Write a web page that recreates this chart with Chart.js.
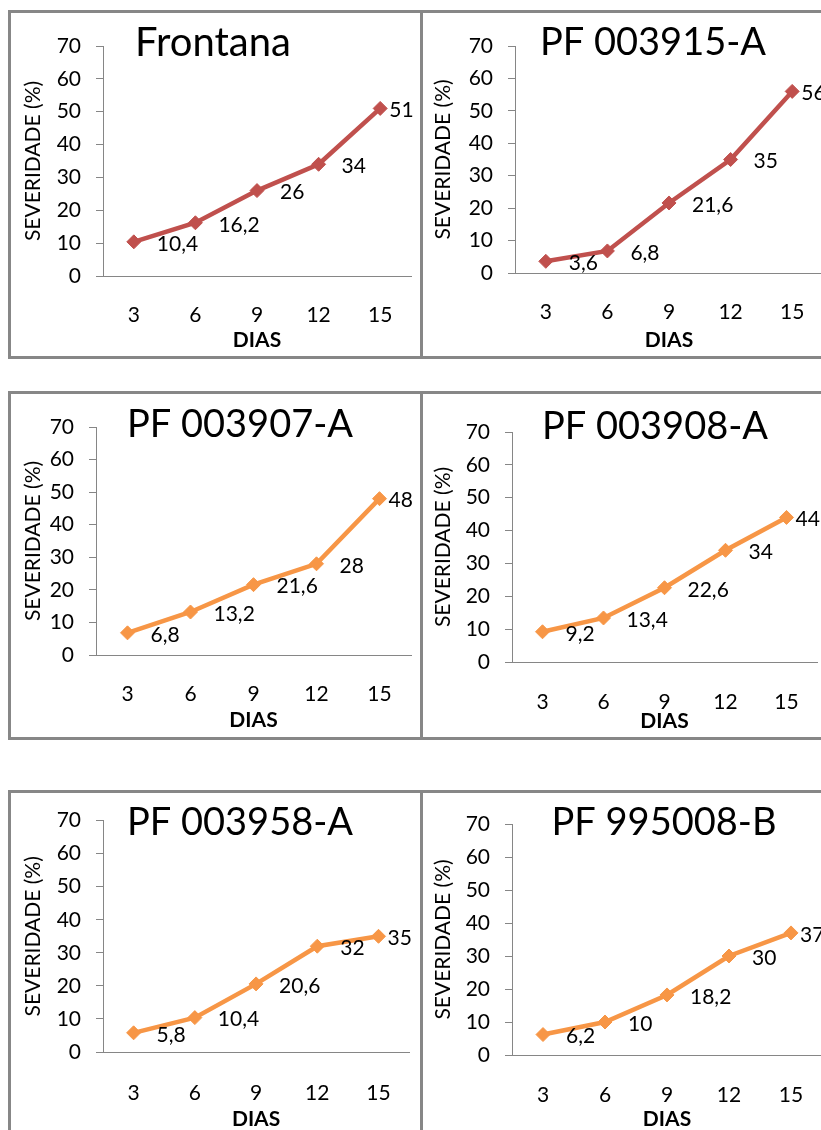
<!DOCTYPE html>
<html><head><meta charset="utf-8">
<script src="https://cdn.jsdelivr.net/npm/chart.js@4.4.1/dist/chart.umd.min.js"></script>
<style>
html,body{margin:0;padding:0;background:#fff;}
body{width:821px;height:1130px;overflow:hidden;position:relative;}
canvas{position:absolute;}
.ln{position:absolute;background:#878787;z-index:5;}
</style></head><body>
<div id="wrap"></div>
<script>
// ---- data ----
const days = ['3', '6', '9', '12', '15'];
const yMin = 0, yMax = 70, yStep = 10;
const frontana  = [10.4, 16.2, 26, 34, 51];
const pf003915A = [3.6, 6.8, 21.6, 35, 56];
const pf003907A = [6.8, 13.2, 21.6, 28, 48];
const pf003908A = [9.2, 13.4, 22.6, 34, 44];
const pf003958A = [5.8, 10.4, 20.6, 32, 35];
const pf995008B = [6.2, 10, 18.2, 30, 37];
const titles = ['Frontana', 'PF 003915-A', 'PF 003907-A', 'PF 003908-A', 'PF 003958-A', 'PF 995008-B'];
const yAxisTitle = 'SEVERIDADE (%)';
const xAxisTitle = 'DIAS';

// ---- styles / layout ----
const RED = '#C0504D', ORANGE = '#F79646', GRAY = '#868686';
const FONT = 'Lato';
const seriesList = [frontana, pf003915A, pf003907A, pf003908A, pf003958A, pf995008B];
const colors = [RED, RED, ORANGE, ORANGE, ORANGE, ORANGE];
const titleSizes = [40, 38, 38, 38, 38, 38];
// cv: canvas x,y,w,h ; plot: left,top,right,bottom ; xl: x tick label centre y ; xt: x title centre y ; yt: y title centre x ; tt: title centre
const panels = [
  {cv:[11,13,409,343],  plot:[103,46,411,276],   xl:315,  xt:340,  yt:33,  tt:[213,43]},
  {cv:[423,13,428,343], plot:[515,46,823,273],   xl:312,  xt:340,  yt:443, tt:[653,43]},
  {cv:[11,394,409,343], plot:[96,427,411,655],   xl:694,  xt:720,  yt:33,  tt:[240,425]},
  {cv:[423,394,428,343],plot:[512,432,817,662],  xl:702,  xt:721,  yt:443, tt:[655,427]},
  {cv:[11,793,409,367], plot:[103,817,411,1052], xl:1093, xt:1119, yt:33,  tt:[240,823]},
  {cv:[423,793,428,367],plot:[512,824,822,1055], xl:1095, xt:1119, yt:443, tt:[664,823]}
];
const borders = [
  [8,10,830,3],[8,356,830,3],[8,391,830,3],[8,737,830,3],[8,790,830,3],
  [8,10,3,349],[420,10,3,349],[8,391,3,349],[420,391,3,349],[8,790,3,350],[420,790,3,350]
];

const panelText = {
  id: 'panelText',
  afterDatasetsDraw(chart, args, o) {
    const ctx = chart.ctx;
    ctx.save();
    ctx.fillStyle = '#000';
    ctx.font = '21px ' + FONT;
    ctx.textAlign = 'left';
    ctx.textBaseline = 'middle';
    const meta = chart.getDatasetMeta(0);
    const vals = chart.data.datasets[0].data;
    meta.data.forEach((pt, i) => {
      const last = i === meta.data.length - 1;
      ctx.fillText(String(vals[i]).replace('.', ','), pt.x + (last ? o.lastDx : o.dx), pt.y + o.dy);
    });
    ctx.font = o.size + 'px ' + FONT;
    ctx.textAlign = 'center';
    ctx.fillText(o.title, o.tx, o.ty);
    ctx.restore();
  }
};

function build() {
  const body = document.body;
  borders.forEach(b => {
    const d = document.createElement('div');
    d.className = 'ln';
    d.style.left = b[0] + 'px'; d.style.top = b[1] + 'px';
    d.style.width = b[2] + 'px'; d.style.height = b[3] + 'px';
    body.appendChild(d);
  });
  panels.forEach((p, k) => {
    const [cx, cy, cw, ch] = p.cv;
    const [pl, pt, pr, pb] = p.plot;
    const c = document.createElement('canvas');
    c.width = cw; c.height = ch;
    c.style.left = cx + 'px'; c.style.top = cy + 'px';
    c.style.width = cw + 'px'; c.style.height = ch + 'px';
    body.appendChild(c);
    const xFontSize = 21, xTitleSize = 21, yTitleSize = 21;
    new Chart(c, {
      type: 'line',
      data: {
        labels: days,
        datasets: [{
          data: seriesList[k],
          borderColor: colors[k],
          backgroundColor: colors[k],
          borderWidth: 4.5,
          tension: 0,
          pointStyle: 'rectRot',
          pointRadius: 7,
          pointBorderWidth: 1,
          pointBackgroundColor: colors[k],
          pointBorderColor: colors[k],
          clip: false
        }]
      },
      options: {
        responsive: false,
        animation: false,
        events: [],
        layout: {padding: {left: 0, top: pt - cy, right: (cx + cw) - pr, bottom: 0}},
        plugins: {
          legend: {display: false},
          tooltip: {enabled: false},
          panelText: {title: titles[k], size: titleSizes[k], tx: p.tt[0] - cx, ty: p.tt[1] - cy, dx: 23, lastDx: 9, dy: 2}
        },
        scales: {
          x: {
            type: 'category',
            offset: true,
            grid: {display: false, drawTicks: false},
            border: {display: true, color: GRAY, width: 1},
            ticks: {font: {family: FONT, size: xFontSize}, color: '#000', padding: p.xl - pb - xFontSize * 0.6, maxRotation: 0, autoSkip: false},
            title: {display: true, text: xAxisTitle, color: '#000', font: {family: FONT, size: xTitleSize, weight: 'bold'},
                    padding: {top: 0, bottom: (cy + ch) - p.xt - xTitleSize * 0.6}},
            afterFit(s) { s.height = (cy + ch) - pb; }
          },
          y: {
            min: yMin, max: yMax,
            ticks: {stepSize: yStep, font: {family: FONT, size: 21}, color: '#000', padding: 15},
            grid: {drawOnChartArea: false, drawTicks: true, tickLength: 7, color: GRAY},
            border: {display: true, color: GRAY, width: 1},
            title: {display: true, text: yAxisTitle, color: '#000', font: {family: FONT, size: yTitleSize},
                    padding: {top: p.yt - cx - yTitleSize * 0.6, bottom: 0}},
            afterFit(s) { s.width = pl - cx; }
          }
        }
      },
      plugins: [panelText]
    });
  });
}
if (document.fonts && document.fonts.load) {
  Promise.all([document.fonts.load('21px Lato'), document.fonts.load('bold 21px Lato'), document.fonts.load('40px Lato')])
    .then(build, build);
} else build();
</script>
</body></html>
